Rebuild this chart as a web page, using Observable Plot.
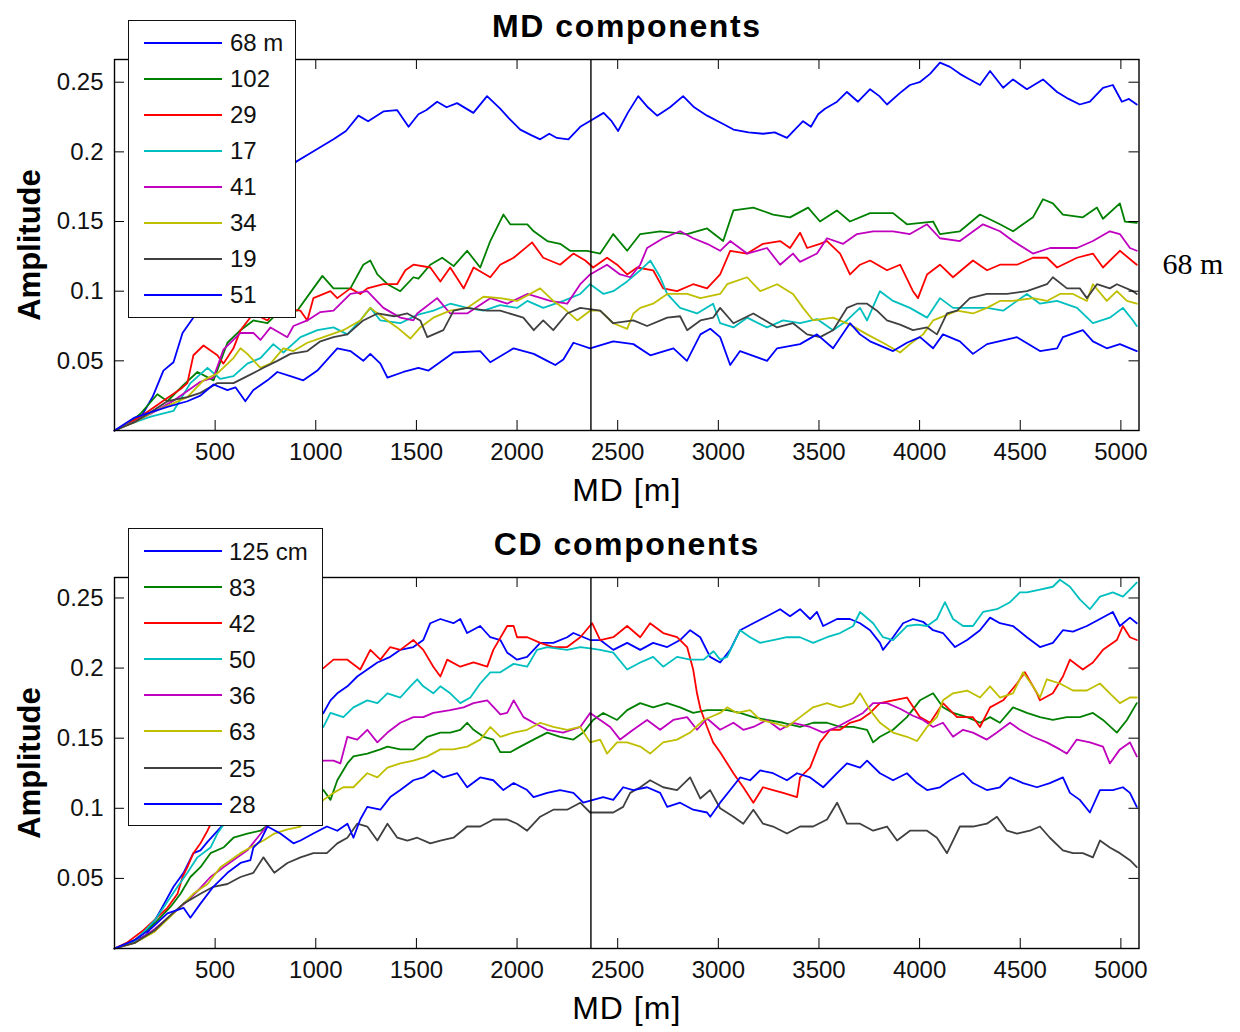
<!DOCTYPE html>
<html>
<head>
<meta charset="utf-8">
<script src="https://cdn.jsdelivr.net/npm/d3@7"></script>
<script src="https://cdn.jsdelivr.net/npm/@observablehq/plot@0.6"></script>
<style>
  html, body { margin: 0; padding: 0; background: #fff; }
  #page { position: relative; width: 1240px; height: 1032px; overflow: hidden;
          font-family: "Liberation Sans", Arial, Helvetica, sans-serif; background: #fff; }
  #page > .panel { position: absolute; left: 0; }
  .legend { position: absolute; background: #fff; border: 1.3px solid #111; box-sizing: border-box; }
  .legend .swatch { position: absolute; height: 2px; }
  .legend .lab { position: absolute; font-size: 24px; line-height: 24px; color: #111; white-space: nowrap; }
</style>
</head>
<body>
<div id="page"></div>
<script>
// ---------- axis ticks ----------
const xTicks = [500, 1000, 1500, 2000, 2500, 3000, 3500, 4000, 4500, 5000];
const yTicks = [0.05, 0.1, 0.15, 0.2, 0.25];
const xMax = 5090;          // MD length [m]
const markerMD = 2367;      // vertical marker position [m]

// ---------- MD components: [MD (m), amplitude] ----------
const md68 = [[0,0],[60,0.004],[129,0.009],[189,0.024],[243,0.043],[293,0.049],[338,0.070],[387,0.080],[450,0.095],[520,0.115],[600,0.135],[680,0.152],[760,0.168],[840,0.182],[903,0.193],[960,0.198],[1030,0.204],[1088,0.209],[1150,0.215],[1212,0.226],[1260,0.222],[1336,0.229],[1404,0.230],[1461,0.218],[1510,0.227],[1550,0.230],[1603,0.236],[1650,0.232],[1702,0.235],[1783,0.228],[1851,0.240],[1916,0.231],[1960,0.224],[2016,0.216],[2070,0.212],[2115,0.209],[2160,0.213],[2198,0.210],[2255,0.209],[2314,0.218],[2373,0.223],[2430,0.228],[2470,0.222],[2502,0.215],[2550,0.228],[2602,0.240],[2650,0.232],[2696,0.226],[2760,0.232],[2825,0.240],[2880,0.232],[2944,0.226],[3024,0.220],[3075,0.216],[3150,0.214],[3222,0.213],[3280,0.214],[3341,0.210],[3380,0.216],[3421,0.222],[3460,0.218],[3496,0.227],[3530,0.231],[3590,0.236],[3639,0.243],[3694,0.236],[3754,0.245],[3800,0.240],[3838,0.234],[3900,0.242],[3952,0.248],[4000,0.250],[4052,0.256],[4101,0.264],[4151,0.261],[4200,0.256],[4236,0.253],[4300,0.248],[4350,0.258],[4415,0.246],[4464,0.252],[4533,0.245],[4613,0.252],[4683,0.243],[4740,0.238],[4796,0.234],[4846,0.236],[4911,0.246],[4960,0.248],[5005,0.236],[5040,0.238],[5079,0.234]];
const md102 = [[0,0],[60,0.004],[129,0.012],[213,0.026],[263,0.021],[338,0.032],[412,0.042],[492,0.036],[561,0.063],[626,0.072],[690,0.079],[760,0.077],[809,0.084],[889,0.086],[908,0.086],[988,0.102],[1033,0.111],[1088,0.102],[1172,0.102],[1236,0.119],[1271,0.122],[1306,0.112],[1356,0.105],[1420,0.100],[1485,0.110],[1510,0.109],[1569,0.119],[1628,0.124],[1685,0.118],[1752,0.129],[1817,0.117],[1867,0.136],[1932,0.155],[1966,0.148],[2051,0.148],[2083,0.143],[2150,0.136],[2214,0.134],[2264,0.129],[2348,0.129],[2413,0.127],[2478,0.141],[2547,0.129],[2612,0.141],[2711,0.143],[2845,0.141],[2944,0.145],[3024,0.136],[3075,0.158],[3174,0.160],[3272,0.155],[3356,0.153],[3446,0.160],[3505,0.150],[3589,0.158],[3654,0.150],[3754,0.156],[3868,0.156],[3937,0.148],[4067,0.150],[4101,0.141],[4200,0.143],[4300,0.155],[4399,0.148],[4464,0.143],[4563,0.153],[4613,0.166],[4662,0.163],[4712,0.155],[4811,0.153],[4881,0.160],[4911,0.152],[4995,0.163],[5020,0.150],[5079,0.149]];
const md29 = [[0,0],[60,0.004],[150,0.012],[250,0.022],[330,0.030],[362,0.034],[392,0.054],[442,0.061],[511,0.054],[541,0.048],[591,0.059],[626,0.072],[690,0.084],[760,0.079],[809,0.088],[924,0.086],[958,0.079],[988,0.095],[1073,0.100],[1107,0.095],[1172,0.102],[1221,0.098],[1256,0.102],[1336,0.105],[1404,0.105],[1445,0.115],[1485,0.119],[1569,0.117],[1619,0.107],[1668,0.117],[1735,0.102],[1784,0.117],[1867,0.110],[1916,0.119],[1983,0.124],[2075,0.135],[2130,0.124],[2214,0.119],[2280,0.127],[2339,0.122],[2378,0.117],[2447,0.124],[2497,0.119],[2547,0.112],[2597,0.117],[2676,0.115],[2726,0.102],[2795,0.100],[2875,0.105],[2944,0.102],[3009,0.112],[3059,0.129],[3143,0.127],[3222,0.134],[3307,0.136],[3356,0.131],[3406,0.142],[3441,0.131],[3505,0.134],[3540,0.136],[3605,0.127],[3654,0.112],[3704,0.119],[3754,0.122],[3838,0.115],[3903,0.119],[3967,0.100],[3992,0.095],[4037,0.112],[4101,0.119],[4166,0.110],[4265,0.122],[4335,0.115],[4399,0.119],[4484,0.119],[4563,0.124],[4633,0.124],[4683,0.117],[4782,0.124],[4861,0.127],[4911,0.117],[4995,0.129],[5079,0.119]];
const md17 = [[0,0],[80,0.005],[180,0.010],[293,0.014],[377,0.034],[462,0.045],[526,0.037],[591,0.039],[660,0.048],[725,0.052],[789,0.062],[839,0.056],[924,0.067],[1008,0.072],[1088,0.074],[1157,0.069],[1221,0.079],[1271,0.088],[1321,0.079],[1420,0.077],[1504,0.083],[1585,0.086],[1668,0.091],[1752,0.088],[1833,0.086],[1916,0.090],[2000,0.088],[2051,0.093],[2130,0.088],[2230,0.093],[2314,0.098],[2363,0.105],[2430,0.098],[2478,0.100],[2547,0.107],[2612,0.115],[2662,0.122],[2711,0.110],[2746,0.098],[2810,0.088],[2894,0.084],[2974,0.091],[3009,0.077],[3075,0.074],[3143,0.081],[3242,0.074],[3322,0.079],[3406,0.077],[3490,0.080],[3570,0.072],[3639,0.079],[3704,0.088],[3739,0.079],[3803,0.100],[3868,0.093],[3952,0.088],[4037,0.081],[4101,0.095],[4166,0.088],[4236,0.088],[4335,0.088],[4415,0.086],[4533,0.098],[4598,0.091],[4683,0.093],[4782,0.088],[4861,0.077],[4945,0.081],[5010,0.088],[5060,0.079],[5079,0.075]];
const md41 = [[0,0],[80,0.005],[180,0.012],[300,0.022],[427,0.035],[492,0.038],[541,0.058],[626,0.070],[690,0.070],[725,0.065],[775,0.074],[859,0.067],[889,0.075],[958,0.079],[1023,0.085],[1088,0.086],[1172,0.098],[1256,0.100],[1336,0.088],[1420,0.081],[1485,0.079],[1504,0.084],[1603,0.095],[1668,0.084],[1752,0.084],[1867,0.095],[1951,0.091],[2051,0.098],[2165,0.093],[2249,0.091],[2314,0.105],[2363,0.112],[2447,0.119],[2512,0.112],[2562,0.110],[2612,0.119],[2646,0.131],[2726,0.138],[2810,0.143],[2875,0.138],[2944,0.134],[3009,0.129],[3059,0.136],[3143,0.127],[3242,0.131],[3307,0.119],[3371,0.127],[3406,0.121],[3490,0.127],[3540,0.138],[3620,0.134],[3689,0.141],[3769,0.143],[3868,0.143],[3952,0.141],[4037,0.148],[4101,0.138],[4200,0.136],[4315,0.148],[4399,0.143],[4464,0.136],[4563,0.127],[4648,0.131],[4697,0.131],[4782,0.131],[4861,0.136],[4945,0.143],[4995,0.141],[5045,0.131],[5079,0.129]];
const md34 = [[0,0],[100,0.006],[200,0.014],[300,0.020],[362,0.024],[442,0.036],[511,0.041],[591,0.052],[626,0.059],[660,0.055],[725,0.045],[775,0.048],[839,0.059],[889,0.057],[958,0.063],[1038,0.067],[1137,0.072],[1221,0.079],[1271,0.088],[1336,0.081],[1404,0.074],[1470,0.066],[1519,0.074],[1584,0.081],[1668,0.086],[1752,0.088],[1833,0.096],[1916,0.095],[2000,0.093],[2115,0.102],[2180,0.093],[2230,0.088],[2299,0.079],[2363,0.086],[2413,0.086],[2478,0.077],[2547,0.073],[2578,0.084],[2612,0.088],[2676,0.091],[2746,0.098],[2845,0.098],[2911,0.095],[3009,0.098],[3044,0.105],[3143,0.110],[3208,0.100],[3292,0.105],[3371,0.098],[3421,0.088],[3471,0.079],[3570,0.081],[3654,0.076],[3739,0.069],[3818,0.063],[3903,0.056],[3952,0.062],[4017,0.069],[4067,0.079],[4136,0.083],[4186,0.086],[4265,0.084],[4335,0.088],[4399,0.093],[4464,0.093],[4563,0.095],[4633,0.093],[4697,0.098],[4762,0.098],[4831,0.093],[4861,0.105],[4930,0.093],[4980,0.100],[5030,0.093],[5079,0.091]];
const md19 = [[0,0],[100,0.006],[200,0.015],[263,0.021],[362,0.024],[427,0.027],[511,0.034],[591,0.034],[660,0.039],[740,0.045],[809,0.050],[874,0.055],[958,0.057],[1023,0.064],[1088,0.067],[1157,0.069],[1236,0.079],[1306,0.084],[1390,0.082],[1455,0.084],[1519,0.079],[1554,0.067],[1634,0.072],[1685,0.086],[1752,0.088],[1851,0.086],[1916,0.086],[2031,0.081],[2083,0.072],[2130,0.079],[2180,0.072],[2249,0.084],[2314,0.088],[2413,0.086],[2478,0.077],[2578,0.079],[2646,0.075],[2746,0.081],[2810,0.082],[2845,0.072],[2911,0.079],[2974,0.081],[3009,0.088],[3075,0.077],[3174,0.084],[3292,0.074],[3371,0.077],[3441,0.069],[3505,0.067],[3570,0.072],[3639,0.088],[3689,0.091],[3739,0.091],[3788,0.086],[3838,0.079],[3903,0.076],[3967,0.072],[4037,0.074],[4086,0.069],[4136,0.084],[4186,0.086],[4250,0.095],[4335,0.098],[4434,0.098],[4533,0.100],[4633,0.105],[4662,0.110],[4732,0.102],[4796,0.102],[4831,0.095],[4881,0.105],[4945,0.102],[4980,0.105],[5060,0.100],[5079,0.098]];
const md51 = [[0,0],[96,0.009],[180,0.013],[263,0.017],[362,0.021],[427,0.025],[492,0.033],[561,0.029],[601,0.031],[650,0.021],[690,0.029],[760,0.036],[809,0.042],[874,0.039],[938,0.036],[1008,0.043],[1107,0.059],[1172,0.057],[1236,0.050],[1271,0.055],[1321,0.048],[1356,0.038],[1435,0.042],[1510,0.045],[1560,0.043],[1685,0.056],[1817,0.057],[1867,0.049],[1983,0.059],[2083,0.055],[2150,0.050],[2190,0.047],[2230,0.051],[2280,0.063],[2363,0.059],[2478,0.064],[2578,0.062],[2662,0.054],[2777,0.059],[2844,0.050],[2911,0.069],[2960,0.073],[3009,0.067],[3059,0.047],[3108,0.057],[3242,0.050],[3292,0.059],[3406,0.062],[3490,0.069],[3570,0.059],[3654,0.077],[3704,0.069],[3754,0.064],[3868,0.057],[3937,0.063],[4002,0.067],[4067,0.059],[4116,0.069],[4200,0.064],[4265,0.055],[4335,0.062],[4484,0.067],[4598,0.057],[4683,0.059],[4712,0.067],[4811,0.072],[4861,0.064],[4930,0.059],[4995,0.062],[5079,0.057]];

// ---------- CD components: [MD (m), amplitude] ----------
const cd125 = [[0,0],[100,0.005],[160,0.010],[228,0.027],[293,0.044],[343,0.054],[392,0.068],[427,0.070],[462,0.076],[550,0.090],[650,0.110],[750,0.128],[850,0.145],[950,0.158],[1038,0.168],[1073,0.177],[1107,0.182],[1157,0.187],[1206,0.194],[1256,0.199],[1306,0.204],[1370,0.208],[1420,0.213],[1485,0.215],[1534,0.220],[1569,0.232],[1619,0.235],[1684,0.232],[1718,0.235],[1752,0.225],[1817,0.230],[1867,0.222],[1917,0.220],[1951,0.211],[2000,0.206],[2050,0.208],[2115,0.218],[2180,0.218],[2249,0.222],[2280,0.225],[2363,0.220],[2413,0.220],[2478,0.213],[2547,0.218],[2612,0.213],[2676,0.218],[2746,0.215],[2810,0.220],[2860,0.227],[2910,0.222],[2959,0.208],[3009,0.204],[3059,0.213],[3108,0.227],[3174,0.232],[3242,0.237],[3307,0.242],[3356,0.237],[3406,0.242],[3456,0.235],[3490,0.240],[3521,0.230],[3590,0.235],[3654,0.235],[3704,0.232],[3754,0.227],[3803,0.218],[3818,0.213],[3868,0.222],[3918,0.232],[3967,0.235],[4017,0.233],[4067,0.227],[4116,0.225],[4176,0.215],[4236,0.220],[4300,0.227],[4350,0.236],[4399,0.232],[4464,0.230],[4533,0.222],[4598,0.215],[4662,0.218],[4712,0.227],[4762,0.226],[4831,0.230],[4896,0.235],[4960,0.240],[4995,0.230],[5045,0.236],[5079,0.232]];
const cd83 = [[0,0],[100,0.006],[200,0.018],[280,0.030],[328,0.039],[377,0.051],[427,0.058],[477,0.068],[541,0.072],[591,0.079],[660,0.082],[725,0.084],[800,0.092],[880,0.100],[960,0.108],[1038,0.113],[1073,0.106],[1107,0.120],[1157,0.132],[1187,0.137],[1256,0.139],[1321,0.142],[1356,0.144],[1420,0.142],[1485,0.142],[1554,0.151],[1619,0.154],[1668,0.154],[1718,0.156],[1752,0.161],[1784,0.156],[1834,0.151],[1882,0.149],[1917,0.140],[1966,0.140],[2016,0.144],[2082,0.149],[2150,0.154],[2214,0.151],[2280,0.149],[2329,0.154],[2378,0.163],[2428,0.168],[2497,0.163],[2547,0.170],[2612,0.175],[2676,0.172],[2746,0.175],[2810,0.172],[2875,0.168],[2944,0.170],[3009,0.170],[3044,0.170],[3108,0.168],[3174,0.165],[3242,0.163],[3322,0.161],[3406,0.158],[3471,0.161],[3540,0.161],[3605,0.158],[3670,0.158],[3739,0.156],[3769,0.147],[3803,0.151],[3868,0.156],[3937,0.165],[4002,0.177],[4067,0.182],[4116,0.172],[4166,0.168],[4236,0.165],[4300,0.161],[4350,0.165],[4399,0.161],[4464,0.172],[4533,0.168],[4598,0.165],[4662,0.163],[4732,0.165],[4796,0.165],[4861,0.168],[4911,0.163],[4980,0.154],[5030,0.163],[5079,0.175]];
const cd42 = [[0,0],[60,0.004],[144,0.013],[263,0.029],[313,0.039],[338,0.051],[362,0.058],[392,0.068],[427,0.075],[462,0.084],[550,0.110],[650,0.140],[750,0.165],[850,0.185],[950,0.198],[1038,0.200],[1088,0.206],[1157,0.206],[1221,0.199],[1271,0.213],[1321,0.206],[1370,0.215],[1420,0.213],[1485,0.220],[1534,0.213],[1584,0.201],[1619,0.194],[1653,0.206],[1718,0.201],[1784,0.204],[1852,0.201],[1882,0.213],[1951,0.230],[1983,0.230],[2000,0.222],[2051,0.222],[2115,0.218],[2180,0.215],[2249,0.215],[2314,0.222],[2373,0.232],[2413,0.220],[2478,0.222],[2547,0.230],[2612,0.222],[2661,0.232],[2726,0.225],[2795,0.222],[2845,0.215],[2875,0.199],[2894,0.182],[2911,0.171],[2944,0.158],[2974,0.147],[3009,0.140],[3075,0.125],[3124,0.115],[3174,0.104],[3222,0.115],[3272,0.113],[3322,0.111],[3391,0.108],[3406,0.122],[3456,0.129],[3505,0.147],[3555,0.156],[3605,0.156],[3654,0.161],[3704,0.163],[3754,0.168],[3803,0.175],[3868,0.177],[3937,0.179],[4002,0.165],[4052,0.161],[4116,0.175],[4186,0.165],[4265,0.165],[4300,0.158],[4350,0.172],[4415,0.177],[4484,0.189],[4523,0.197],[4583,0.182],[4598,0.177],[4662,0.182],[4712,0.194],[4747,0.206],[4811,0.199],[4861,0.204],[4911,0.213],[4980,0.220],[5010,0.230],[5045,0.222],[5079,0.220]];
const cd50 = [[0,0],[100,0.005],[200,0.020],[313,0.044],[362,0.054],[412,0.065],[477,0.072],[511,0.082],[600,0.100],[700,0.120],[800,0.135],[900,0.148],[980,0.154],[1038,0.158],[1073,0.168],[1137,0.165],[1187,0.172],[1256,0.177],[1306,0.175],[1356,0.182],[1420,0.179],[1470,0.187],[1504,0.192],[1534,0.187],[1584,0.182],[1619,0.187],[1668,0.182],[1718,0.175],[1768,0.179],[1817,0.189],[1867,0.197],[1917,0.197],[1983,0.203],[2050,0.201],[2099,0.213],[2150,0.215],[2249,0.213],[2314,0.215],[2363,0.214],[2413,0.213],[2478,0.211],[2547,0.199],[2612,0.204],[2676,0.208],[2726,0.201],[2795,0.208],[2860,0.206],[2927,0.206],[2976,0.212],[3009,0.206],[3044,0.208],[3108,0.227],[3158,0.222],[3208,0.218],[3272,0.220],[3341,0.222],[3406,0.222],[3471,0.218],[3540,0.222],[3605,0.225],[3670,0.230],[3704,0.240],[3769,0.232],[3818,0.222],[3868,0.220],[3937,0.230],[3987,0.231],[4037,0.230],[4086,0.235],[4126,0.247],[4166,0.235],[4216,0.230],[4265,0.230],[4315,0.240],[4384,0.242],[4449,0.247],[4498,0.254],[4533,0.254],[4598,0.256],[4662,0.258],[4697,0.263],[4747,0.258],[4796,0.249],[4846,0.242],[4896,0.251],[4960,0.254],[5010,0.251],[5045,0.256],[5079,0.261]];
const cd36 = [[0,0],[100,0.004],[200,0.014],[300,0.026],[362,0.034],[412,0.041],[477,0.051],[541,0.058],[611,0.065],[660,0.070],[710,0.079],[800,0.095],[900,0.112],[980,0.128],[1038,0.134],[1088,0.134],[1122,0.132],[1157,0.151],[1206,0.149],[1256,0.156],[1306,0.147],[1356,0.154],[1420,0.161],[1485,0.165],[1534,0.165],[1584,0.168],[1668,0.170],[1734,0.172],[1784,0.175],[1852,0.177],[1917,0.167],[1951,0.168],[1983,0.177],[2032,0.165],[2082,0.161],[2150,0.156],[2229,0.154],[2314,0.158],[2363,0.168],[2413,0.163],[2463,0.158],[2512,0.149],[2577,0.156],[2646,0.163],[2711,0.156],[2776,0.163],[2845,0.165],[2894,0.156],[2944,0.164],[3009,0.156],[3075,0.161],[3124,0.156],[3174,0.158],[3242,0.163],[3307,0.156],[3371,0.161],[3456,0.158],[3521,0.154],[3590,0.158],[3654,0.163],[3719,0.168],[3769,0.175],[3838,0.175],[3903,0.171],[3967,0.166],[4017,0.163],[4067,0.158],[4116,0.161],[4166,0.151],[4216,0.156],[4265,0.154],[4334,0.149],[4384,0.154],[4449,0.161],[4498,0.156],[4563,0.151],[4632,0.147],[4697,0.142],[4732,0.139],[4781,0.149],[4846,0.147],[4911,0.144],[4945,0.132],[4995,0.142],[5045,0.147],[5079,0.137]];
const cd63 = [[0,0],[100,0.004],[200,0.012],[300,0.026],[392,0.039],[462,0.046],[526,0.058],[576,0.063],[626,0.068],[675,0.072],[740,0.077],[794,0.082],[860,0.085],[924,0.087],[980,0.097],[1038,0.106],[1088,0.111],[1137,0.115],[1187,0.115],[1256,0.125],[1306,0.122],[1356,0.129],[1420,0.132],[1485,0.134],[1554,0.137],[1619,0.142],[1684,0.142],[1752,0.144],[1817,0.149],[1867,0.158],[1917,0.151],[1983,0.154],[2050,0.156],[2115,0.161],[2180,0.158],[2249,0.156],[2314,0.158],[2363,0.147],[2413,0.149],[2447,0.139],[2497,0.147],[2547,0.147],[2612,0.144],[2661,0.139],[2726,0.147],[2795,0.149],[2860,0.154],[2927,0.163],[2976,0.166],[3009,0.168],[3044,0.172],[3093,0.168],[3158,0.170],[3208,0.163],[3272,0.161],[3341,0.158],[3406,0.165],[3471,0.172],[3540,0.175],[3605,0.172],[3670,0.175],[3704,0.182],[3754,0.170],[3803,0.161],[3868,0.154],[3937,0.151],[3987,0.148],[4037,0.158],[4086,0.165],[4116,0.177],[4166,0.182],[4236,0.184],[4300,0.179],[4350,0.187],[4399,0.179],[4464,0.182],[4514,0.197],[4563,0.187],[4598,0.179],[4632,0.192],[4697,0.189],[4762,0.184],[4831,0.184],[4896,0.189],[4945,0.182],[4995,0.175],[5045,0.179],[5079,0.179]];
const cd25 = [[0,0],[100,0.004],[200,0.013],[280,0.024],[343,0.032],[427,0.039],[491,0.044],[561,0.046],[626,0.051],[690,0.054],[740,0.065],[794,0.054],[859,0.061],[924,0.065],[988,0.068],[1055,0.068],[1107,0.075],[1157,0.079],[1206,0.089],[1256,0.087],[1306,0.077],[1356,0.089],[1405,0.079],[1455,0.077],[1504,0.079],[1569,0.075],[1619,0.077],[1684,0.079],[1752,0.087],[1817,0.087],[1882,0.092],[1951,0.092],[2000,0.089],[2050,0.084],[2115,0.094],[2180,0.099],[2249,0.099],[2314,0.104],[2363,0.097],[2413,0.097],[2478,0.097],[2527,0.101],[2562,0.111],[2612,0.115],[2661,0.120],[2726,0.115],[2795,0.113],[2860,0.122],[2910,0.107],[2959,0.113],[3009,0.100],[3075,0.094],[3124,0.089],[3174,0.099],[3222,0.089],[3272,0.087],[3341,0.082],[3406,0.087],[3471,0.087],[3540,0.092],[3590,0.104],[3639,0.089],[3704,0.089],[3769,0.084],[3838,0.087],[3888,0.077],[3952,0.084],[4037,0.084],[4086,0.079],[4136,0.068],[4166,0.077],[4200,0.087],[4265,0.087],[4334,0.089],[4384,0.094],[4434,0.084],[4484,0.082],[4548,0.084],[4598,0.087],[4647,0.079],[4712,0.070],[4762,0.068],[4811,0.068],[4861,0.065],[4896,0.077],[4945,0.072],[4995,0.068],[5045,0.063],[5079,0.058]];
const cd28 = [[0,0],[100,0.006],[180,0.014],[263,0.025],[343,0.029],[377,0.022],[427,0.032],[491,0.044],[561,0.054],[626,0.061],[675,0.063],[690,0.072],[725,0.077],[760,0.087],[824,0.082],[889,0.075],[924,0.077],[988,0.082],[1055,0.087],[1107,0.084],[1157,0.089],[1187,0.079],[1221,0.092],[1256,0.101],[1321,0.099],[1370,0.108],[1420,0.113],[1485,0.120],[1534,0.122],[1584,0.127],[1634,0.122],[1703,0.125],[1752,0.115],[1817,0.122],[1882,0.120],[1932,0.113],[1983,0.118],[2050,0.113],[2082,0.108],[2150,0.111],[2214,0.113],[2280,0.111],[2329,0.104],[2378,0.106],[2428,0.108],[2478,0.106],[2527,0.115],[2577,0.113],[2646,0.115],[2711,0.111],[2746,0.101],[2810,0.104],[2875,0.099],[2944,0.097],[2960,0.094],[3009,0.104],[3059,0.113],[3108,0.122],[3158,0.120],[3208,0.127],[3272,0.125],[3341,0.120],[3391,0.125],[3456,0.122],[3521,0.115],[3590,0.125],[3639,0.132],[3704,0.129],[3739,0.134],[3803,0.125],[3868,0.120],[3937,0.125],[3987,0.118],[4037,0.113],[4101,0.115],[4151,0.120],[4216,0.125],[4265,0.118],[4334,0.113],[4399,0.115],[4449,0.122],[4514,0.118],[4583,0.115],[4647,0.118],[4712,0.122],[4747,0.111],[4796,0.106],[4846,0.097],[4896,0.113],[4960,0.113],[5010,0.115],[5045,0.111],[5079,0.101]];

// ---------- series lists (legend order = drawing order) ----------
const lineColors = ["#0000ff", "#008000", "#ff0000", "#00bfbf", "#bf00bf", "#bfbf00", "#404040", "#0000ff"];
const mdLabels = ["68 m", "102", "29", "17", "41", "34", "19", "51"];
const mdSeries = [md68, md102, md29, md17, md41, md34, md19, md51];
const cdLabels = ["125 cm", "83", "42", "50", "36", "63", "25", "28"];
const cdSeries = [cd125, cd83, cd42, cd50, cd36, cd63, cd25, cd28];

// ---------- layout ----------
const W = 1240, H = 510;
const M = {left: 114, right: 101.5, top: 59, bottom: 80};
const plotW = W - M.left - M.right, plotH = H - M.top - M.bottom;
const FONT = '"Liberation Sans", Arial, Helvetica, sans-serif';

function panel({series, yMax, title, extra}) {
  const marks = series.map((s, i) =>
    Plot.line(s, {x: d => d[0], y: d => d[1], stroke: lineColors[i], strokeWidth: 1.8}));
  marks.push(
    Plot.ruleX([markerMD], {stroke: "#000", strokeWidth: 1.4}),
    // inward tick marks on all four sides
    Plot.tickX(xTicks, {x: d => d, insetTop: plotH - 10, stroke: "#000"}),
    Plot.tickX(xTicks, {x: d => d, insetBottom: plotH - 10, stroke: "#000"}),
    Plot.tickY(yTicks, {y: d => d, insetRight: plotW - 10, stroke: "#000"}),
    Plot.tickY(yTicks, {y: d => d, insetLeft: plotW - 10, stroke: "#000"}),
    Plot.frame({stroke: "#000", strokeWidth: 1.4}),
    Plot.text([title], {frameAnchor: "top", dy: -23, lineAnchor: "bottom", textAnchor: "middle",
      fontSize: 32, fontWeight: "bold", fill: "#000"}),
    Plot.text(["Amplitude"], {frameAnchor: "left", dx: -75, rotate: -90, lineAnchor: "bottom",
      textAnchor: "middle", fontSize: 31, fontWeight: "bold", fill: "#000"}),
    Plot.text(["MD [m]"], {frameAnchor: "bottom", dy: 70, lineAnchor: "bottom", textAnchor: "middle",
      fontSize: 32, fill: "#000"})
  );
  if (extra) marks.push(extra);
  const svg = Plot.plot({
    width: W, height: H,
    marginLeft: M.left, marginRight: M.right, marginTop: M.top, marginBottom: M.bottom,
    style: {fontFamily: FONT, fontSize: "24px", color: "#111", background: "transparent", overflow: "visible"},
    x: {domain: [0, xMax], ticks: xTicks, tickSize: 0, tickPadding: 12, tickFormat: d => String(d), label: null},
    y: {domain: [0, yMax], ticks: yTicks, tickSize: 0, tickPadding: 11, tickFormat: d => String(d), label: null},
    marks
  });
  // slightly wider letter spacing for the heading and x label
  d3.select(svg).selectAll("text").each(function () {
    if (this.textContent === title) this.setAttribute("letter-spacing", "1.6px");
    if (this.textContent === "MD [m]") this.setAttribute("letter-spacing", "1px");
  });
  return svg;
}

function legend(labels, box, rows) {
  const div = document.createElement("div");
  div.className = "legend";
  Object.assign(div.style, {left: box.x + "px", top: box.y + "px", width: box.w + "px", height: box.h + "px"});
  labels.forEach((lab, i) => {
    const cy = Math.round(rows.first + i * rows.step - box.y);
    const sw = document.createElement("div");
    sw.className = "swatch";
    Object.assign(sw.style, {left: Math.round(rows.x0 - box.x) + "px", width: Math.round(rows.x1 - rows.x0) + "px",
      top: (cy - 1) + "px", background: lineColors[i]});
    const tx = document.createElement("div");
    tx.className = "lab";
    tx.textContent = lab;
    Object.assign(tx.style, {left: (rows.tx - box.x) + "px", top: (cy - 11.7) + "px"});
    div.append(sw, tx);
  });
  return div;
}

const page = document.getElementById("page");

const mdPanel = document.createElement("div");
mdPanel.className = "panel"; mdPanel.style.top = "0px";
mdPanel.append(panel({
  series: mdSeries, yMax: 0.2663, title: "MD components",
  extra: Plot.text(["68 m"], {frameAnchor: "right", dx: 23.5, dy: 28.5, textAnchor: "start",
    lineAnchor: "bottom", fontSize: 30, fontFamily: '"Liberation Serif", "Times New Roman", serif', fill: "#000"})
}));
page.append(mdPanel);

const cdPanel = document.createElement("div");
cdPanel.className = "panel"; cdPanel.style.top = "518px";
cdPanel.append(panel({series: cdSeries, yMax: 0.2646, title: "CD components"}));
page.append(cdPanel);

page.append(legend(mdLabels, {x: 127.7, y: 20, w: 168, h: 298},
  {first: 41.7, step: 36.09, x0: 143, x1: 221, tx: 229}));
page.append(legend(cdLabels, {x: 127.7, y: 528.3, w: 195.3, h: 298},
  {first: 550, step: 36.14, x0: 142.7, x1: 220.7, tx: 228}));
</script>
</body>
</html>
